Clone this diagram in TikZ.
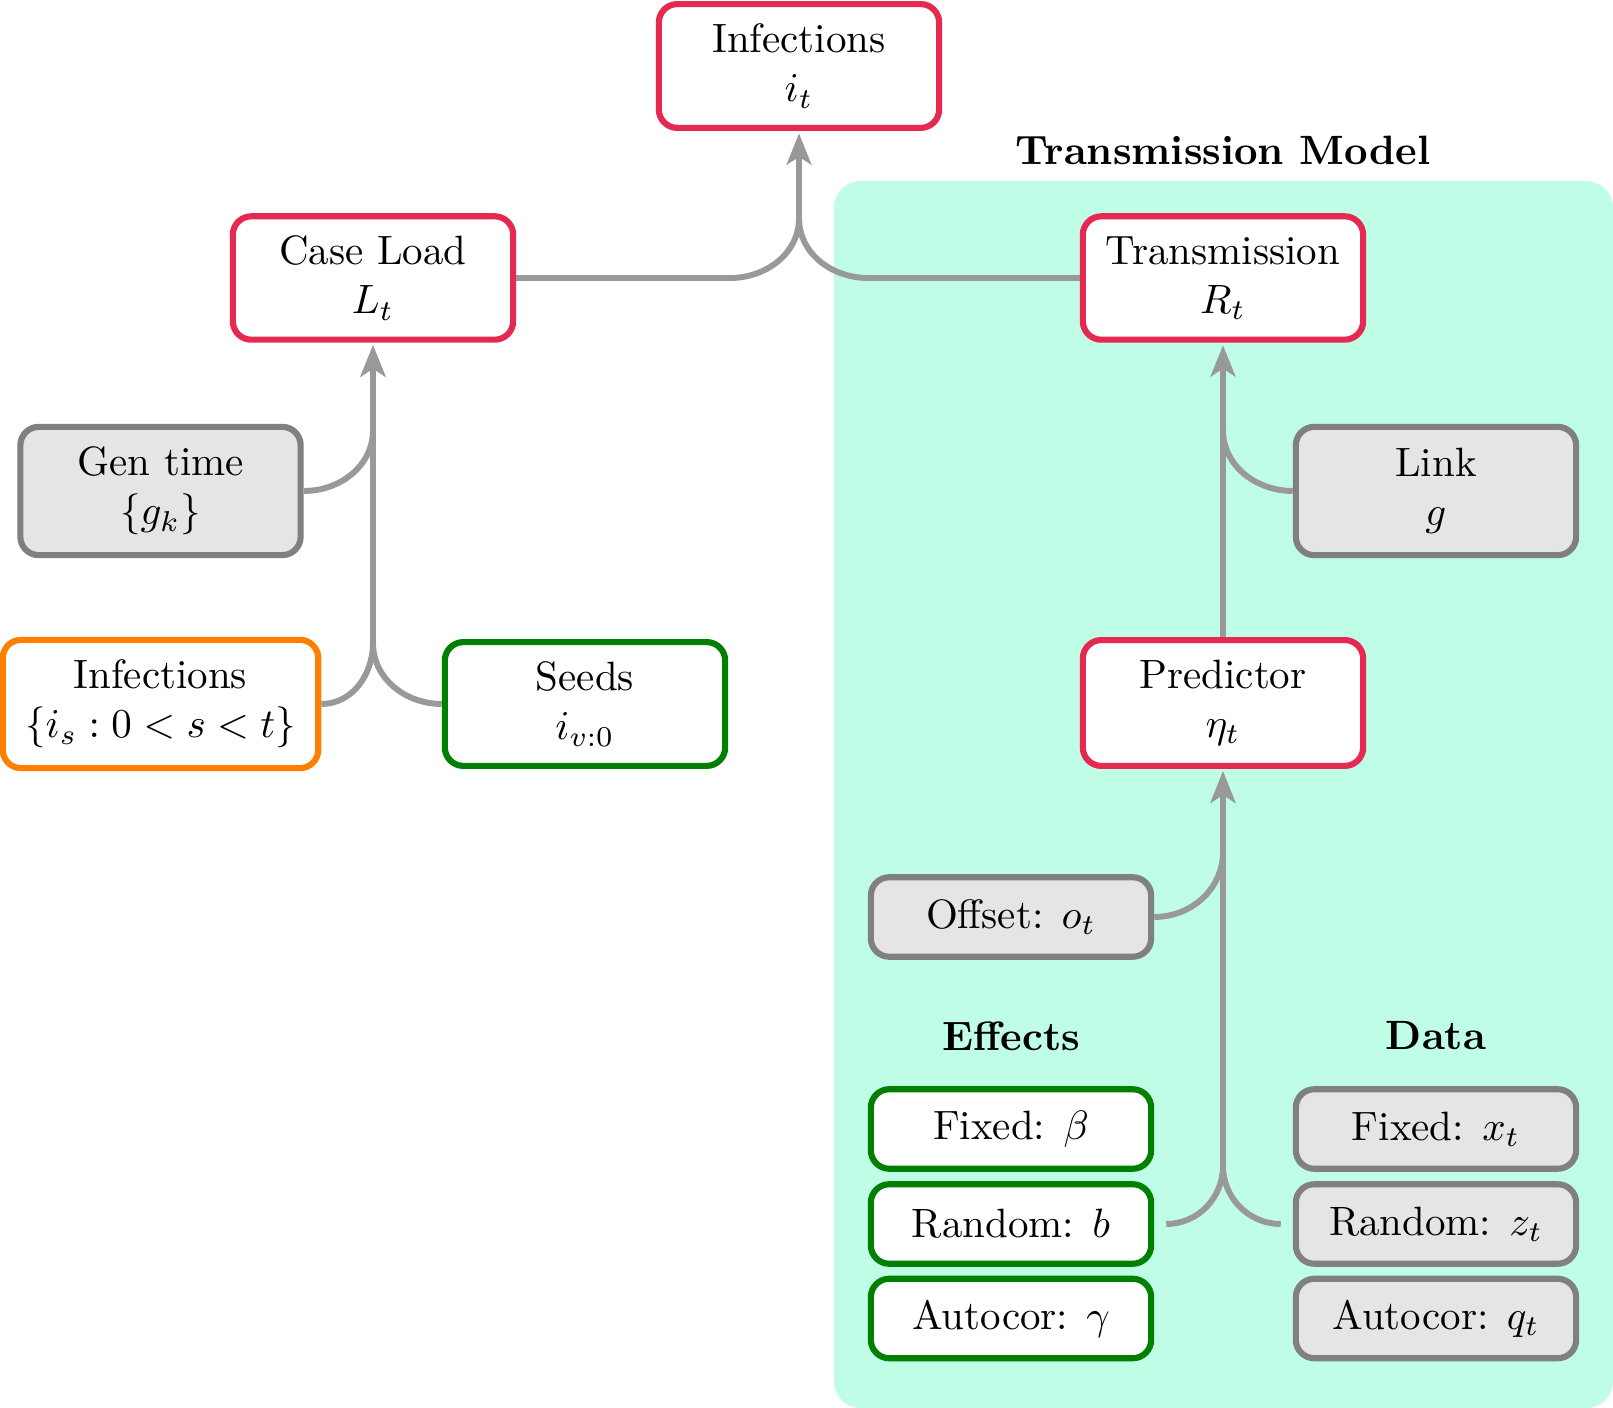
\documentclass[tikz,border=0pt]{standalone}
\usetikzlibrary{arrows.meta,calc}
\definecolor{mint}{RGB}{191,253,230}
\definecolor{boxred}{RGB}{230,41,80}
\definecolor{boxgreen}{RGB}{0,128,0}
\definecolor{boxorange}{RGB}{255,128,0}
\definecolor{boxgray}{RGB}{128,128,128}
\definecolor{fillgray}{RGB}{229,229,229}
\definecolor{conncol}{RGB}{153,153,153}
\begin{document}
\begin{tikzpicture}[x=0.244pt,y=-0.244pt,
  box/.style={draw, rounded corners=4.5pt, line width=1.5pt, minimum width=68.4pt,
    inner xsep=5.5pt, inner ysep=2pt, align=center, fill=white},
  redbox/.style={box, draw=boxred},
  greenbox/.style={box, draw=boxgreen},
  orangebox/.style={box, draw=boxorange},
  graybox/.style={box, draw=boxgray, fill=fillgray},
  small/.style={minimum height=19.4pt},
  conn/.style={draw=conncol, line width=1.45pt},
  arr/.style={conn, -{Stealth[length=7.6pt,width=6pt,inset=1.9pt]}, shorten >=0.6pt},
  heading/.style={font=\bfseries, inner sep=0pt}
]
\useasboundingbox (0,0) rectangle (1613,1408);
\fill[mint, rounded corners=6.5pt] (834,181) rectangle (1613,1408);

% labels
\node[heading] (tmlabel) at (1223,150) {Transmission Model};
\node[heading] (efflabel) at (1011,1036) {Effects};
\node[heading] (datalabel) at (1436,1036) {Data};

% main boxes
\node[redbox, minimum height=30.2pt] (inftop) at (799,66) {Infections\\$i_t$};
\node[redbox, minimum height=30.1pt] (cl) at (373,278) {Case Load\\$L_t$};
\node[redbox, minimum height=30.1pt] (tr) at (1223,278) {Transmission\\$R_t$};
\node[graybox, minimum height=31.3pt] (gen) at (160.5,491) {Gen time\\$\{g_k\}$};
\node[graybox, minimum height=31.3pt] (link) at (1436,491) {Link\\$g$};
\node[orangebox, minimum height=31.3pt] (inf2) at (160.5,704) {Infections\\$\{i_s : 0 < s < t\}$};
\node[greenbox, minimum height=30.2pt] (seeds) at (585,704) {Seeds\\$i_{v:0}$};
\node[redbox, minimum height=30.7pt] (pred) at (1223,703) {Predictor\\$\eta_t$};
\node[graybox, small] (offset) at (1011,917) {Offset: $o_t$};

% effects
\node[greenbox, small] (fb) at (1011,1129) {Fixed: $\beta$};
\node[greenbox, small] (rb) at (1011,1224) {Random: $b$};
\node[greenbox, small] (ab) at (1011,1318.5) {Autocor: $\gamma$};
% data
\node[graybox, small] (fx) at (1436,1129) {Fixed: $x_t$};
\node[graybox, small] (rz) at (1436,1224) {Random: $z_t$};
\node[graybox, small] (aq) at (1436,1318.5) {Autocor: $q_t$};

% connectors into Infections (top)
\draw[conn] (cl.east) -- ($(cl.east -| inftop.south)+(-69,0)$)
  to[out=0,in=-90] ($(cl.east -| inftop.south)+(0,-60)$) coordinate (j1);
\draw[conn] (tr.west) -- ($(tr.west -| inftop.south)+(69,0)$)
  to[out=180,in=-90] (j1);
\draw[arr] (j1) -- (inftop.south);

% connectors into Case Load
\draw[conn] (gen.east) to[out=0,in=-90] ($(gen.east -| cl.south)+(0,-61)$) coordinate (j2);
\draw[arr] (j2) -- (cl.south);
\draw[conn] (inf2.east) to[out=0,in=-90] ($(inf2.east -| cl.south)+(0,-61)$) coordinate (j3);
\draw[conn] (seeds.west) to[out=180,in=-90] (j3);
\draw[arr] (j3) -- (cl.south);

% connectors into Transmission
\draw[conn] (link.west) to[out=180,in=-90] ($(link.west -| tr.south)+(0,-61)$) coordinate (j4);
\draw[arr] (pred.north) -- (tr.south);

% connectors into Predictor
\draw[conn] (offset.east) to[out=0,in=-90] ($(offset.east -| pred.south)+(0,-65)$) coordinate (j5);
\draw[arr] (j5) -- (pred.south);
\coordinate (rbout) at ($(rb.east)+(12,0)$);
\coordinate (rzout) at ($(rz.west)+(-12,0)$);
\draw[conn] (rbout) to[out=0,in=-90] ($(rb.east -| pred.south)+(0,-58)$) coordinate (j6);
\draw[conn] (rzout) to[out=180,in=-90] (j6);
\draw[arr] (j6) -- (pred.south);
\end{tikzpicture}
\end{document}
